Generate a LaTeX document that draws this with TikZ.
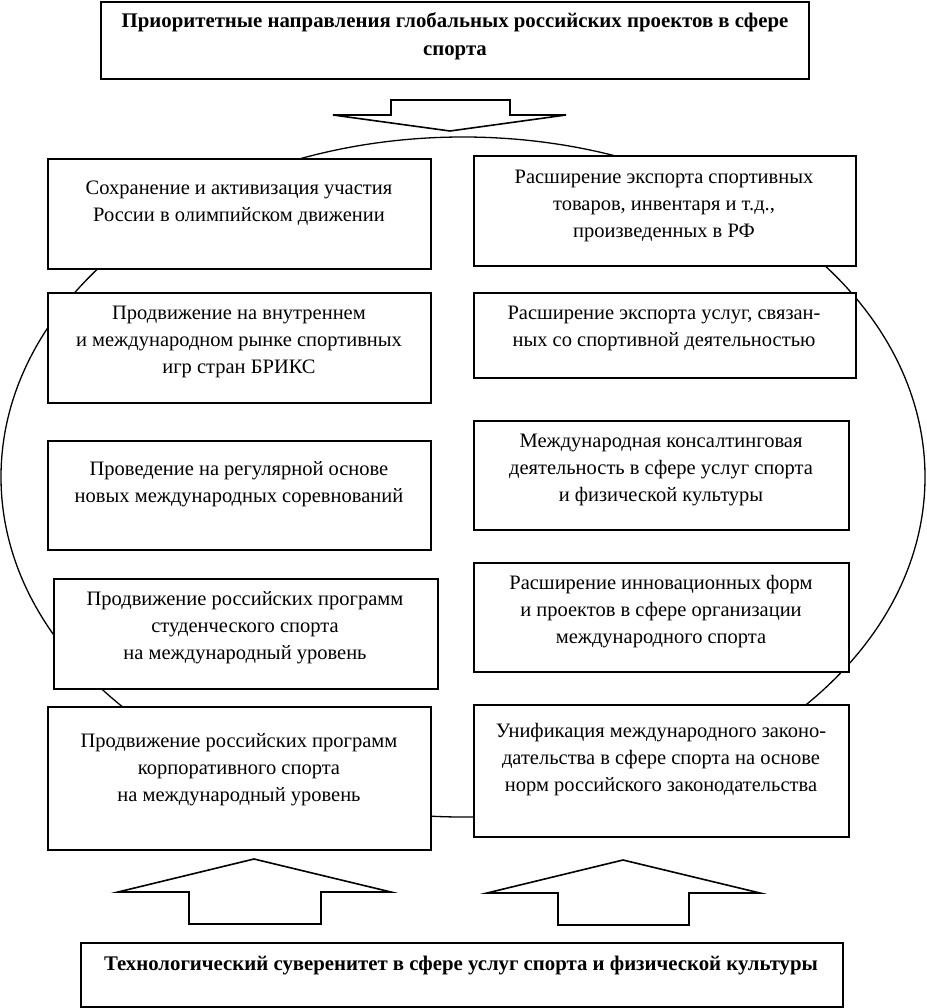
\documentclass[tikz,border=0pt]{standalone}
\usepackage{fontspec}
\setmainfont{Liberation Serif}
\usetikzlibrary{calc}
\tikzset{
  box/.style={draw, line width=1.6pt, fill=white, inner sep=0pt, anchor=north west},
  txt/.style={font=\fontsize{20.5}{27}\selectfont, align=center, inner sep=0pt},
  btxt/.style={font=\bfseries\fontsize{20.8}{28}\selectfont, align=center, inner sep=0pt},
  ell/.style={draw, line width=1.3pt},
  blockarrow/.style={draw, line width=1.6pt, fill=white, line join=miter}
}
\begin{document}
\begin{tikzpicture}[x=1pt,y=-1pt]
\useasboundingbox (0,0) rectangle (926,1008);
% enclosing ellipse
\draw[ell] (463,477) ellipse [x radius=462pt, y radius=340pt];
% title
\node[box, minimum width=708pt, minimum height=77pt] (top) at (100,1) {};
\node[btxt] (toptxt) at (455,36) {Приоритетные направления глобальных российских проектов в сфере\\спорта};
% top down arrow
\coordinate (dtip) at (450,131);
\draw[blockarrow] (391,100) -- (510,100) -- (510,115) -- (566,115) -- (dtip) -- (333,115) -- (391,115) -- cycle;
% left boxes
\node[box, minimum width=383pt, minimum height=110pt] (l1) at (47,158) {};
\node[txt] (l1t) at (239,203) {Сохранение и активизация участия\\России в олимпийском движении};
\node[box, minimum width=383pt, minimum height=110pt] (l2) at (47,292) {};
\node[txt] (l2t) at (239,342) {Продвижение на внутреннем\\и международном рынке спортивных\\игр стран БРИКС};
\node[box, minimum width=383pt, minimum height=109pt] (l3) at (47,440) {};
\node[txt] (l3t) at (239,484) {Проведение на регулярной основе\\новых международных соревнований};
\node[box, minimum width=384pt, minimum height=110pt] (l4) at (53,578) {};
\node[txt] (l4t) at (245,628) {Продвижение российских программ\\студенческого спорта\\на международный уровень};
\node[box, minimum width=383pt, minimum height=143pt] (l5) at (47,706) {};
\node[txt] (l5t) at (239,770) {Продвижение российских программ\\корпоративного спорта\\на международный уровень};
% right boxes
\node[box, minimum width=382pt, minimum height=110pt] (r1) at (473,155) {};
\node[txt] (r1t) at (664,206) {Расширение экспорта спортивных\\товаров, инвентаря и т.д.,\\произведенных в РФ};
\node[box, minimum width=382pt, minimum height=85pt] (r2) at (473,292) {};
\node[txt] (r2t) at (664,328) {Расширение экспорта услуг, связан-\\ных со спортивной деятельностью};
\node[box, minimum width=375pt, minimum height=109pt] (r3) at (473,420) {};
\node[txt] (r3t) at (661,470) {Международная консалтинговая\\деятельность в сфере услуг спорта\\и физической культуры};
\node[box, minimum width=375pt, minimum height=109pt] (r4) at (473,562) {};
\node[txt] (r4t) at (661,612) {Расширение инновационных форм\\и проектов в сфере организации\\международного спорта};
\node[box, minimum width=375pt, minimum height=132pt] (r5) at (473,704) {};
\node[txt] (r5t) at (661,760) {Унификация международного законо-\\дательства в сфере спорта на основе\\норм российского законодательства};
% bottom up arrows
\coordinate (utip1) at (254,859);
\draw[blockarrow] (189,924) -- (321,924) -- (321,892) -- (391,892) -- (utip1) -- (118,892) -- (189,892) -- cycle;
\coordinate (utip2) at (623,860);
\draw[blockarrow] (558,925) -- (689,925) -- (689,893) -- (760,893) -- (utip2) -- (487,893) -- (558,893) -- cycle;
% bottom box
\node[box, minimum width=762pt, minimum height=64pt] (bot) at (80,942) {};
\node[btxt] (bottxt) at (461,966) {Технологический суверенитет в сфере услуг спорта и физической культуры};
\end{tikzpicture}
\end{document}
